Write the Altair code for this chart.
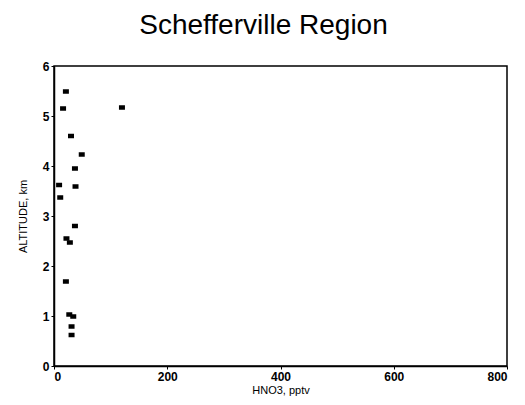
import altair as alt
import pandas as pd

hno3 = [21, 16, 120, 30, 49, 37, 9, 38, 11, 37, 22, 28, 21, 27, 34, 31, 31]
altitude = [5.49, 5.15, 5.17, 4.6, 4.23, 3.95, 3.62, 3.59, 3.37, 2.8, 2.55, 2.47, 1.69, 1.03, 0.99, 0.79, 0.62]
x_ticks = [0, 200, 400, 600, 800]
y_ticks = [0, 1, 2, 3, 4, 5, 6]

df = pd.DataFrame({"HNO3": hno3, "ALT": altitude})

font = "Liberation Sans"

chart = alt.Chart(df).mark_point(
    shape="M-1,-0.75H1V0.75H-1Z", size=36, filled=True, color="black", opacity=1
).encode(
    x=alt.X("HNO3:Q", scale=alt.Scale(domain=[0, 800], nice=False),
            axis=alt.Axis(title="HNO3, pptv", values=x_ticks, grid=False, tickSize=3,
                          domainColor="black", tickColor="black", labelColor="black",
                          labelFont=font, labelFontSize=12, labelFontWeight="bold",
                          titleFont=font, titleFontSize=11, titleFontWeight="normal",
                          titleColor="black", titlePadding=2, domainWidth=1.5)),
    y=alt.Y("ALT:Q", scale=alt.Scale(domain=[0, 6], nice=False),
            axis=alt.Axis(title="ALTITUDE, km", values=y_ticks, grid=False, tickSize=3,
                          domainColor="black", tickColor="black", labelColor="black",
                          labelFont=font, labelFontSize=12, labelFontWeight="bold",
                          titleFont=font, titleFontSize=11, titleFontWeight="normal",
                          titleColor="black", titlePadding=14, domainWidth=1.5)),
).properties(
    width=453, height=300,
    title=alt.TitleParams("Schefferville Region", font=font, fontSize=28, fontWeight="normal",
                          color="black", offset=20, dx=-17),
    autosize=alt.AutoSizeParams(type="none"),
    padding={"left": 46, "top": 58, "right": 10, "bottom": 31},
).configure_view(stroke="black", strokeWidth=1.5)

chart.save("out.html", embed_options={"renderer": "svg", "actions": False})
